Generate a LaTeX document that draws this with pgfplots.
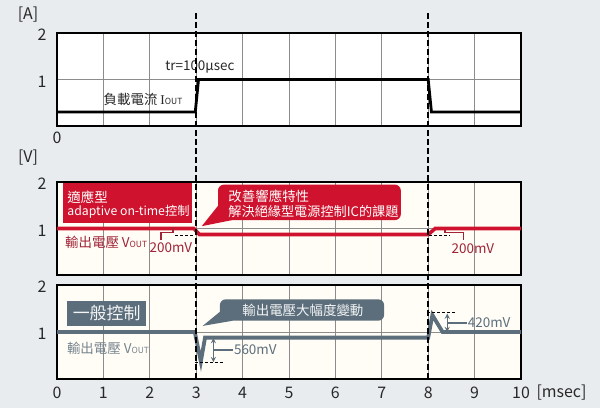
\documentclass[border=0pt]{standalone}
\usepackage{fontspec}
\setmainfont{Noto Sans CJK TC}
\newfontfamily\serifI{Liberation Serif}
\usepackage{pgfplots}
\pgfplotsset{compat=1.18}

\definecolor{bgc}{RGB}{233,236,239}
\definecolor{crim}{RGB}{207,18,45}
\definecolor{darkred}{RGB}{160,35,55}
\definecolor{slate}{RGB}{92,110,123}
\definecolor{slatetxt}{RGB}{118,132,142}
\definecolor{cream}{RGB}{255,253,246}
\definecolor{txt}{RGB}{40,40,40}

\newcommand{\lbl}{\fontsize{13.5}{14}\selectfont}
\newcommand{\tck}{\fontsize{16}{16}\selectfont}
\newcommand{\sub}[1]{{\fontsize{8.5}{8.5}\selectfont #1}}

\pgfplotsset{panel/.style={
  scale only axis, width=464bp, anchor=south west, clip=false,
  xmin=0, xmax=10, ymin=0, ymax=2,
  xtick={0,...,10}, ytick={1,2}, xticklabels={},
  grid=major, major grid style={gray!90, line width=0.7bp},
  axis line style={line width=2bp}, tick style={draw=none},
  /pgf/number format/assume math mode=true,
  ticklabel style={font=\tck, text=txt},
  yticklabel style={anchor=center, xshift=-15bp, yshift=-2bp},
  axis background/.style={fill=cream}}}

\begin{document}
\begin{tikzpicture}
\path[use as bounding box, fill=bgc] (0,0) rectangle (600bp,408bp);

% load current
\begin{axis}[panel, at={(57bp,282bp)}, height=93bp, axis background/.style={fill=white}]
\addplot[black, line width=2.8bp] coordinates {(0,0.3) (2.98,0.3) (3.05,1.0) (8.0,1.0) (8.07,0.3) (10,0.3)};
\node[anchor=west, font=\lbl, text=txt] at (axis cs:0.93,0.57) {負載電流 {\serifI I}\sub{OUT}};
\node[font=\lbl, text=txt] at (axis cs:3.08,1.28) {tr=100µsec};
\node[font=\tck, text=txt, yshift=-12bp] at (axis cs:0,0) {0};
\end{axis}

% adaptive on-time
\begin{axis}[panel, at={(57bp,133bp)}, height=93bp]
\fill[crim] (axis cs:0.13,1.98) rectangle (axis cs:2.91,1.115);
\node[anchor=west, font=\lbl, text=white] at (axis cs:0.15,1.68) {適應型};
\node[anchor=west, font=\fontsize{12.3}{13}\selectfont, text=white] at (axis cs:0.15,1.36) {adaptive on-time控制};
\fill[crim, rounded corners=6bp] (axis cs:3.47,1.944) rectangle (axis cs:7.41,1.18);
\fill[crim] (axis cs:3.48,1.50) -- (axis cs:3.12,1.05) -- (axis cs:3.77,1.18) -- cycle;
\node[anchor=west, font=\lbl, text=white] at (axis cs:3.62,1.70) {改善響應特性};
\node[anchor=west, font=\fontsize{13.2}{14}\selectfont, text=white] at (axis cs:3.62,1.37) {解決絕緣型電源控制IC的課題};
\addplot[crim, line width=3.6bp] coordinates {(0,1.0) (2.95,1.0) (3.07,0.87) (8.0,0.87) (8.15,1.0) (10,1.0)};
\draw[darkred, line width=1.2bp] (axis cs:2.24,0.75) -- (axis cs:2.24,0.92) -- (axis cs:2.5,0.92) -- (axis cs:2.5,1.0);
\draw[black, line width=1bp, dash pattern=on 3bp off 2bp] (axis cs:2.55,0.84) -- (axis cs:2.97,0.84);
\draw[darkred, line width=1.2bp] (axis cs:8.36,0.97) -- (axis cs:8.36,0.92) -- (axis cs:8.76,0.92) -- (axis cs:8.76,0.75);
\draw[black, line width=1bp, dash pattern=on 3bp off 2bp] (axis cs:8.02,0.84) -- (axis cs:8.47,0.84);
\node[anchor=west, font=\lbl, text=darkred] at (axis cs:1.92,0.59) {200mV};
\node[anchor=west, font=\lbl, text=darkred] at (axis cs:8.43,0.57) {200mV};
\node[anchor=west, font=\lbl, text=darkred] at (axis cs:0.10,0.71) {輸出電壓 V\sub{OUT}};
\end{axis}

% general control
\begin{axis}[panel, at={(57bp,29bp)}, height=94bp,
  xticklabels={0,1,2,3,4,5,6,7,8,9,10},
  xticklabel style={anchor=center, yshift=-14bp}]
\fill[slate] (axis cs:0.215,1.666) rectangle (axis cs:1.92,1.128);
\node[font=\fontsize{17}{17}\selectfont, text=white!92!slate] at (axis cs:1.07,1.40) {一般控制};
\fill[slate, rounded corners=6bp] (axis cs:3.51,1.696) rectangle (axis cs:7.05,1.24);
\fill[slate] (axis cs:3.51,1.43) -- (axis cs:3.14,1.13) -- (axis cs:3.79,1.24) -- cycle;
\node[font=\lbl, text=white!92!slate] at (axis cs:5.30,1.45) {輸出電壓大幅度變動};
\addplot[slate, line width=3.8bp, line join=miter] coordinates {(0,1.0) (2.97,1.0) (3.10,0.37) (3.19,0.88) (8.0,0.88) (8.09,1.36) (8.31,1.0) (10,1.0)};
\draw[black, line width=1bp, dash pattern=on 3bp off 2bp] (axis cs:2.97,0.35) -- (axis cs:3.58,0.35);
\draw[slate, line width=1.3bp, <->, >=stealth] (axis cs:3.37,0.87) -- (axis cs:3.37,0.36);
\draw[slate, line width=1.3bp] (axis cs:3.37,0.62) -- (axis cs:3.79,0.62);
\node[anchor=west, font=\lbl, text=slate, inner sep=1bp] at (axis cs:3.79,0.62) {560mV};
\draw[black, line width=1bp, dash pattern=on 3bp off 2bp] (axis cs:7.97,1.405) -- (axis cs:8.58,1.405);
\draw[slate, line width=1.3bp, <->, >=stealth] (axis cs:8.41,1.39) -- (axis cs:8.41,1.0);
\draw[slate, line width=1.3bp] (axis cs:8.41,1.19) -- (axis cs:8.83,1.19);
\node[anchor=west, font=\lbl, text=slate, inner sep=1bp] at (axis cs:8.83,1.19) {420mV};
\node[anchor=west, font=\lbl, text=slatetxt] at (axis cs:0.14,0.65) {輸出電壓 V\sub{OUT}};
\end{axis}

% load step markers
\draw[black, line width=1.5bp, dash pattern=on 6bp off 3bp] (196.2bp,29bp) -- (196.2bp,397bp);
\draw[black, line width=1.5bp, dash pattern=on 6bp off 3bp] (428.2bp,29bp) -- (428.2bp,397bp);

\node[font=\tck, text=txt] at (28bp,393bp) {[A]};
\node[font=\tck, text=txt] at (28bp,250bp) {[V]};
\node[font=\tck, text=txt, anchor=west] at (533bp,15bp) {[msec]};
\end{tikzpicture}
\end{document}
